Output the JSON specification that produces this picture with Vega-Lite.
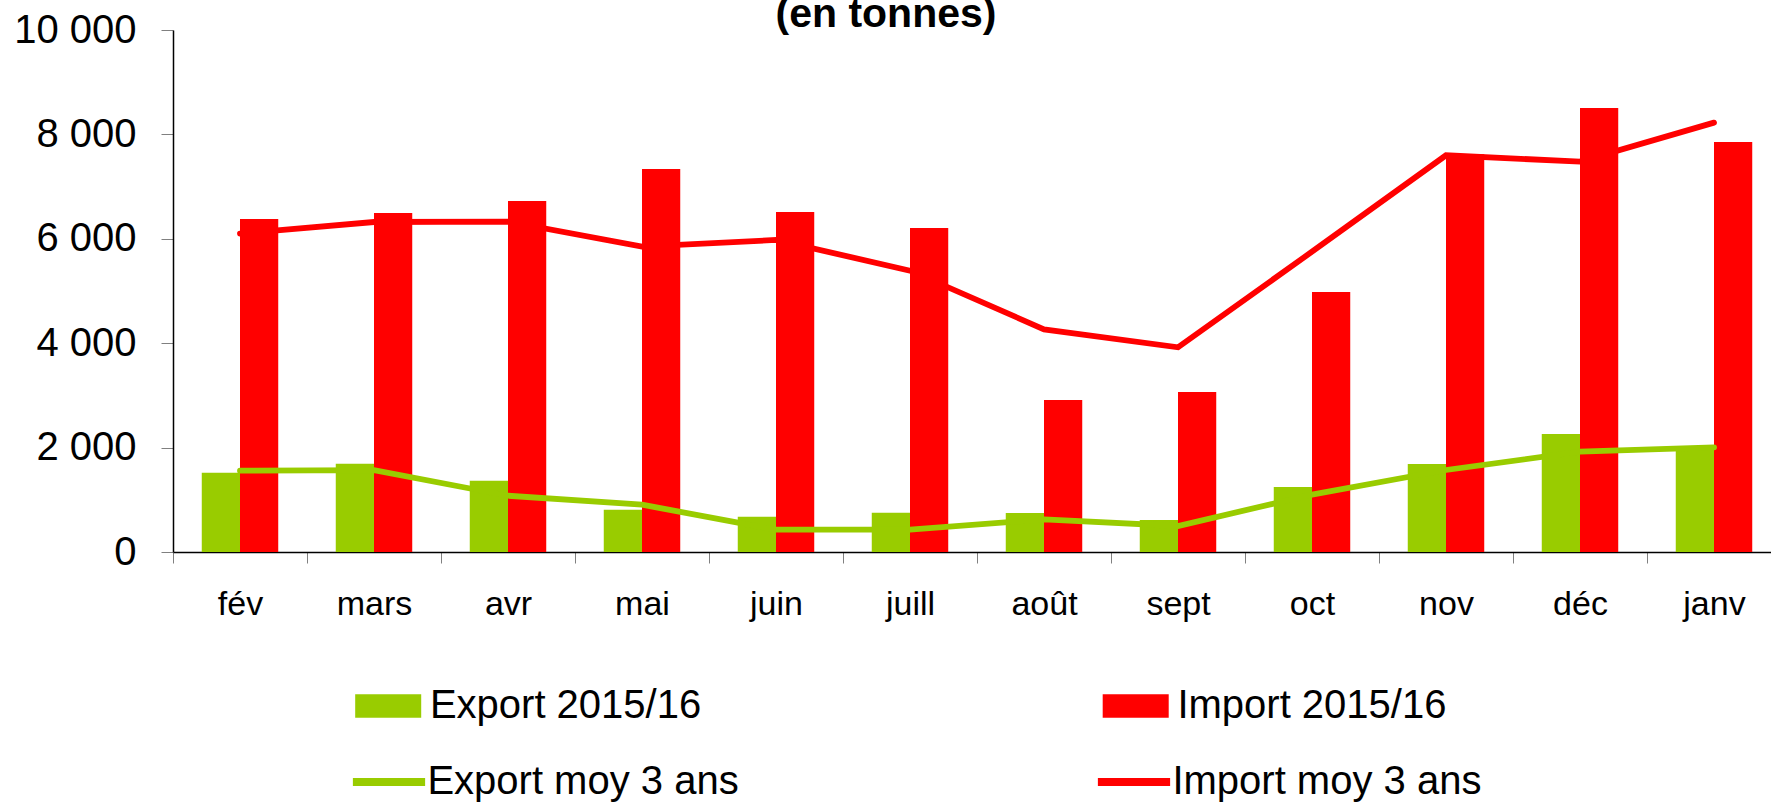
{
  "$schema": "https://vega.github.io/schema/vega-lite/v6.json",
  "width": 1598,
  "height": 522,
  "autosize": {"type": "none"},
  "padding": {"left": 173, "top": 30, "right": 0, "bottom": 252},
  "background": "white",
  "title": {"text": "(en tonnes)", "fontSize": 41, "fontWeight": "bold", "font": "Liberation Sans", "color": "black", "anchor": "middle", "dx": -86, "dy": 60, "baseline": "alphabetic", "offset": 2},
  "config": {"view": {"stroke": null}, "font": "Liberation Sans"},
  "datasets": {
    "bars": [
      {"month": "fév", "series": "Export 2015/16", "value": 1518},
      {"month": "mars", "series": "Export 2015/16", "value": 1690},
      {"month": "avr", "series": "Export 2015/16", "value": 1365},
      {"month": "mai", "series": "Export 2015/16", "value": 810},
      {"month": "juin", "series": "Export 2015/16", "value": 676},
      {"month": "juill", "series": "Export 2015/16", "value": 753},
      {"month": "août", "series": "Export 2015/16", "value": 747},
      {"month": "sept", "series": "Export 2015/16", "value": 613},
      {"month": "oct", "series": "Export 2015/16", "value": 1245},
      {"month": "nov", "series": "Export 2015/16", "value": 1686},
      {"month": "déc", "series": "Export 2015/16", "value": 2261},
      {"month": "janv", "series": "Export 2015/16", "value": 2018},
      {"month": "fév", "series": "Import 2015/16", "value": 6380},
      {"month": "mars", "series": "Import 2015/16", "value": 6494},
      {"month": "avr", "series": "Import 2015/16", "value": 6724},
      {"month": "mai", "series": "Import 2015/16", "value": 7337},
      {"month": "juin", "series": "Import 2015/16", "value": 6514},
      {"month": "juill", "series": "Import 2015/16", "value": 6207},
      {"month": "août", "series": "Import 2015/16", "value": 2912},
      {"month": "sept", "series": "Import 2015/16", "value": 3065},
      {"month": "oct", "series": "Import 2015/16", "value": 4981},
      {"month": "nov", "series": "Import 2015/16", "value": 7619},
      {"month": "déc", "series": "Import 2015/16", "value": 8506},
      {"month": "janv", "series": "Import 2015/16", "value": 7854}
    ],
    "lines": [
      {"month": "fév", "series": "Export moy 3 ans", "value": 1557},
      {"month": "mars", "series": "Export moy 3 ans", "value": 1570},
      {"month": "avr", "series": "Export moy 3 ans", "value": 1078},
      {"month": "mai", "series": "Export moy 3 ans", "value": 906},
      {"month": "juin", "series": "Export moy 3 ans", "value": 427},
      {"month": "juill", "series": "Export moy 3 ans", "value": 427},
      {"month": "août", "series": "Export moy 3 ans", "value": 626},
      {"month": "sept", "series": "Export moy 3 ans", "value": 498},
      {"month": "oct", "series": "Export moy 3 ans", "value": 1100},
      {"month": "nov", "series": "Export moy 3 ans", "value": 1571},
      {"month": "déc", "series": "Export moy 3 ans", "value": 1922},
      {"month": "janv", "series": "Export moy 3 ans", "value": 2005},
      {"month": "fév", "series": "Import moy 3 ans", "value": 6100},
      {"month": "mars", "series": "Import moy 3 ans", "value": 6322},
      {"month": "avr", "series": "Import moy 3 ans", "value": 6330},
      {"month": "mai", "series": "Import moy 3 ans", "value": 5850},
      {"month": "juin", "series": "Import moy 3 ans", "value": 5978},
      {"month": "juill", "series": "Import moy 3 ans", "value": 5390},
      {"month": "août", "series": "Import moy 3 ans", "value": 4266},
      {"month": "sept", "series": "Import moy 3 ans", "value": 3921},
      {"month": "oct", "series": "Import moy 3 ans", "value": 5753},
      {"month": "nov", "series": "Import moy 3 ans", "value": 7600},
      {"month": "déc", "series": "Import moy 3 ans", "value": 7478},
      {"month": "janv", "series": "Import moy 3 ans", "value": 8225}
    ]
  },
  "layer": [
    {
      "data": {"name": "bars"},
      "mark": {"type": "bar"},
      "encoding": {
        "x": {
          "field": "month", "type": "nominal",
          "sort": ["fév", "mars", "avr", "mai", "juin", "juill", "août", "sept", "oct", "nov", "déc", "janv"],
          "scale": {"paddingInner": 0, "paddingOuter": 0, "range": [0, 1608]},
          "axis": {"title": null, "tickBand": "extent", "tickSize": 11, "tickColor": "#808080", "domainColor": "black", "domainWidth": 1.5, "labelFontSize": 34, "labelColor": "black", "labelPadding": 24, "labelAngle": 0, "labelBaseline": "top", "grid": false}
        },
        "xOffset": {
          "field": "series", "type": "nominal",
          "sort": ["Export 2015/16", "Import 2015/16"],
          "scale": {"paddingOuter": 0.752, "paddingInner": 0}
        },
        "y": {
          "field": "value", "type": "quantitative",
          "scale": {"domain": [0, 10000], "nice": false},
          "axis": {"title": null, "values": [0, 2000, 4000, 6000, 8000, 10000], "tickSize": 12, "tickColor": "#808080", "domainColor": "black", "domainWidth": 1.5, "labelFontSize": 40, "labelColor": "black", "labelPadding": 25, "grid": false, "labelExpr": "replace(format(datum.value, ','), ',', ' ')"}
        },
        "color": {
          "field": "series", "type": "nominal",
          "scale": {"domain": ["Export 2015/16", "Import 2015/16"], "range": ["#99CC00", "#FF0000"]},
          "legend": {"title": null, "orient": "none", "legendX": 195.2, "legendY": 656, "direction": "horizontal", "columns": 2, "columnPadding": 399.5, "symbolType": "M-2.833,-1H2.833V1H-2.833Z", "symbolSize": 543, "symbolStrokeWidth": 0, "symbolOpacity": 1, "labelFontSize": 40, "labelColor": "black", "labelOffset": 21.7, "padding": 0, "labelLimit": 600}
        }
      }
    },
    {
      "data": {"name": "lines"},
      "mark": {"type": "line", "strokeWidth": 5.8, "strokeCap": "round"},
      "encoding": {
        "x": {"field": "month", "type": "nominal", "sort": ["fév", "mars", "avr", "mai", "juin", "juill", "août", "sept", "oct", "nov", "déc", "janv"]},
        "y": {"field": "value", "type": "quantitative"},
        "stroke": {
          "field": "series", "type": "nominal",
          "scale": {"domain": ["Export moy 3 ans", "Import moy 3 ans"], "range": ["#99CC00", "#FF0000"]},
          "legend": {"title": null, "orient": "none", "legendX": 196, "legendY": 732, "direction": "horizontal", "columns": 2, "columnPadding": 342, "symbolType": "M-3.1,0H3.1", "symbolSize": 543, "symbolStrokeWidth": 8, "symbolOpacity": 1, "labelFontSize": 40, "labelColor": "black", "labelOffset": 18.4, "padding": 0, "labelLimit": 600}
        }
      }
    }
  ]
}
